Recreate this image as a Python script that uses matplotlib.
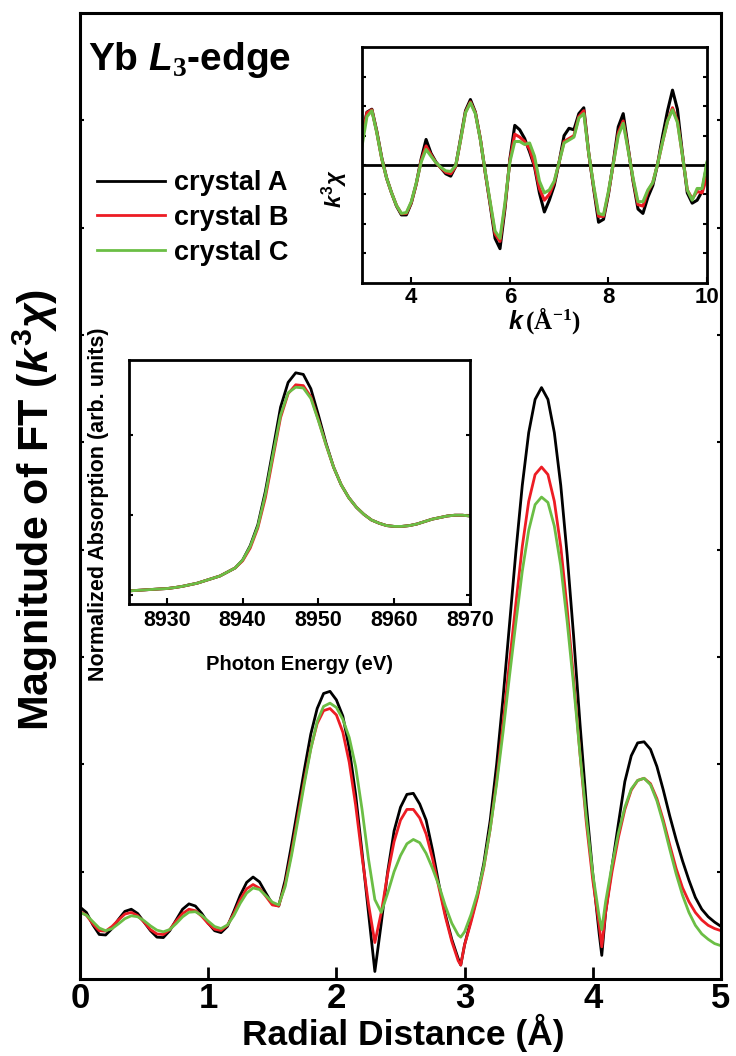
import numpy as np
import matplotlib
matplotlib.use("Agg")
import matplotlib.pyplot as plt
from matplotlib.lines import Line2D

plt.rcParams['font.family'] = ['Liberation Sans', 'DejaVu Sans']
plt.rcParams['font.weight'] = 'bold'
plt.rcParams['axes.labelweight'] = 'bold'
plt.rcParams['mathtext.fontset'] = 'custom'
plt.rcParams['mathtext.it'] = 'Liberation Sans:italic:bold'
plt.rcParams['mathtext.rm'] = 'Liberation Serif:bold'
plt.rcParams['mathtext.sf'] = 'Liberation Sans:bold'
plt.rcParams['mathtext.bf'] = 'Liberation Sans:bold'
plt.rcParams['lines.solid_joinstyle'] = 'round'

labels = ["crystal A", "crystal B", "crystal C"]
colors = ["black", "#ED1C24", "#6BBE45"]

# main panel: |FT| vs radial distance (0.05 A grid plus the two sharp minima)
r = np.sort(np.r_[np.round(np.arange(101) * 0.05, 2), 2.97, 4.07])
ft_a = [0.67, 0.62, 0.505, 0.415, 0.41, 0.47, 0.555, 0.63, 0.65, 0.61,
        0.53, 0.45, 0.39, 0.386, 0.45, 0.55, 0.65, 0.70, 0.68, 0.61,
        0.52, 0.45, 0.432, 0.49, 0.63, 0.78, 0.90, 0.95, 0.905, 0.80,
        0.70, 0.68, 0.92, 1.25, 1.60, 1.95, 2.28, 2.52, 2.66, 2.68,
        2.60, 2.45, 2.15, 1.72, 1.18, 0.62, 0.07, 0.52, 1.00, 1.38,
        1.60, 1.72, 1.73, 1.63, 1.48, 1.20, 0.88, 0.60, 0.37, 0.19, 0.13,
        0.32, 0.55, 0.78, 1.08, 1.48, 2.00, 2.62, 3.30, 3.98, 4.60,
        5.09, 5.40, 5.51, 5.40, 5.09, 4.60, 3.95, 3.20, 2.38, 1.62,
        0.98, 0.42, 0.22, 0.62, 1.05, 1.45, 1.84, 2.08, 2.20, 2.21, 2.14,
        1.98, 1.76, 1.52, 1.30, 1.10, 0.92, 0.76, 0.65, 0.58, 0.53,
        0.49]
ft_b = [0.63, 0.594, 0.514, 0.45, 0.446, 0.49, 0.55, 0.605, 0.62, 0.59,
        0.53, 0.46, 0.42, 0.414, 0.46, 0.54, 0.61, 0.65, 0.636, 0.584,
        0.516, 0.464, 0.452, 0.50, 0.61, 0.74, 0.84, 0.88, 0.846, 0.77,
        0.69, 0.68, 0.88, 1.18, 1.52, 1.85, 2.15, 2.38, 2.50, 2.52,
        2.46, 2.30, 2.02, 1.62, 1.14, 0.70, 0.34, 0.62, 0.98, 1.28,
        1.48, 1.58, 1.58, 1.50, 1.35, 1.12, 0.85, 0.58, 0.35, 0.17, 0.13,
        0.32, 0.53, 0.76, 1.04, 1.40, 1.85, 2.38, 2.95, 3.50, 4.03,
        4.45, 4.70, 4.77, 4.70, 4.45, 4.03, 3.45, 2.80, 2.10, 1.45,
        0.92, 0.50, 0.30, 0.62, 1.00, 1.32, 1.58, 1.76, 1.85, 1.87, 1.82,
        1.68, 1.48, 1.25, 1.03, 0.85, 0.72, 0.62, 0.55, 0.50, 0.47,
        0.45]
ft_c = [0.62, 0.595, 0.535, 0.475, 0.45, 0.469, 0.514, 0.562, 0.589, 0.58,
        0.543, 0.495, 0.455, 0.44, 0.461, 0.516, 0.579, 0.622, 0.627, 0.593,
        0.539, 0.489, 0.47, 0.503, 0.59, 0.706, 0.80, 0.848, 0.834, 0.776,
        0.716, 0.69, 0.86, 1.15, 1.48, 1.82, 2.14, 2.40, 2.54, 2.57,
        2.53, 2.42, 2.25, 1.98, 1.58, 1.12, 0.74, 0.62, 0.80, 1.00,
        1.15, 1.26, 1.30, 1.27, 1.17, 1.03, 0.87, 0.68, 0.52, 0.41, 0.39,
        0.44, 0.60, 0.80, 1.05, 1.40, 1.82, 2.30, 2.82, 3.32, 3.80,
        4.18, 4.42, 4.49, 4.44, 4.22, 3.85, 3.33, 2.74, 2.10, 1.50,
        0.98, 0.58, 0.46, 0.72, 1.06, 1.36, 1.60, 1.77, 1.85, 1.87, 1.81,
        1.66, 1.45, 1.21, 0.98, 0.78, 0.62, 0.50, 0.42, 0.37, 0.33,
        0.31]

# top inset: k^3 chi(k)
k = np.round(np.arange(3.0, 10.01, 0.1), 1)
chi_a = [1.00, 1.80, 1.90, 1.15, 0.25, -0.45, -0.95, -1.40, -1.70, -1.70,
         -1.30, -0.65, 0.20, 0.87, 0.40, 0.10, -0.10, -0.30, -0.38, -0.05,
         0.90, 1.85, 2.23, 1.80, 0.90, -0.25, -1.35, -2.50, -2.85, -1.50,
         0.20, 1.35, 1.20, 0.90, 0.45, -0.05, -0.95, -1.60, -1.20, -0.70,
         0.10, 1.00, 1.25, 1.20, 1.75, 1.95, 0.40, -0.80, -1.95, -1.85,
         -1.00, 0.10, 1.30, 1.75, 0.60, -0.55, -1.50, -1.65, -1.10, -0.70,
         0.05, 1.00, 1.85, 2.55, 1.90, 0.40, -0.95, -1.30, -1.20, -0.90,
         0.05]
chi_b = [0.95, 1.78, 1.88, 1.12, 0.22, -0.45, -0.95, -1.38, -1.66, -1.65,
         -1.28, -0.65, 0.15, 0.65, 0.35, 0.08, -0.10, -0.25, -0.30, -0.05,
         0.85, 1.80, 2.15, 1.78, 0.90, -0.25, -1.30, -2.35, -2.60, -1.40,
         0.15, 1.05, 0.95, 0.80, 0.55, 0.00, -0.80, -1.20, -1.00, -0.60,
         0.10, 0.80, 0.90, 1.00, 1.65, 1.85, 0.40, -0.75, -1.75, -1.75,
         -0.95, 0.05, 1.10, 1.50, 0.55, -0.50, -1.35, -1.40, -0.90, -0.60,
         0.05, 0.80, 1.50, 1.95, 1.50, 0.35, -0.85, -1.15, -0.90, -0.95,
         -0.40]
chi_c = [0.65, 1.65, 1.85, 1.10, 0.22, -0.45, -0.95, -1.38, -1.65, -1.62,
         -1.25, -0.62, 0.10, 0.53, 0.30, 0.08, -0.08, -0.20, -0.22, -0.02,
         0.85, 1.78, 2.12, 1.75, 0.88, -0.22, -1.25, -2.25, -2.50, -1.30,
         0.10, 0.80, 0.80, 0.70, 0.75, 0.30, -0.55, -0.95, -0.85, -0.55,
         0.10, 0.75, 0.85, 0.95, 1.60, 1.75, 0.40, -0.70, -1.65, -1.70,
         -0.90, 0.05, 1.00, 1.42, 0.50, -0.45, -1.25, -1.25, -0.85, -0.60,
         0.05, 0.80, 1.50, 1.88, 1.45, 0.35, -0.85, -1.20, -0.80, -0.80,
         0.10]

# middle inset: XANES
energy = np.arange(8925, 8971)
mu_a = [0.054, 0.060, 0.066, 0.072, 0.078, 0.083, 0.095, 0.11, 0.13, 0.15,
        0.18, 0.21, 0.24, 0.29, 0.34, 0.44, 0.62, 0.88, 1.30, 1.82,
        2.35, 2.66, 2.78, 2.76, 2.58, 2.25, 1.90, 1.60, 1.38, 1.22,
        1.10, 1.01, 0.94, 0.90, 0.87, 0.86, 0.86, 0.87, 0.89, 0.92,
        0.95, 0.97, 0.99, 1.00, 1.00, 0.99]
mu_b = [0.054, 0.060, 0.066, 0.072, 0.078, 0.083, 0.095, 0.11, 0.13, 0.15,
        0.18, 0.21, 0.24, 0.29, 0.34, 0.43, 0.59, 0.84, 1.22, 1.72,
        2.22, 2.52, 2.63, 2.62, 2.48, 2.19, 1.88, 1.60, 1.38, 1.22,
        1.10, 1.01, 0.94, 0.90, 0.87, 0.86, 0.86, 0.87, 0.89, 0.92,
        0.95, 0.97, 0.99, 1.00, 1.00, 0.99]
mu_c = [0.054, 0.060, 0.066, 0.072, 0.078, 0.083, 0.095, 0.11, 0.13, 0.15,
        0.18, 0.21, 0.24, 0.29, 0.34, 0.44, 0.61, 0.86, 1.26, 1.76,
        2.25, 2.53, 2.60, 2.59, 2.46, 2.18, 1.88, 1.60, 1.38, 1.22,
        1.10, 1.01, 0.94, 0.90, 0.87, 0.86, 0.86, 0.87, 0.89, 0.92,
        0.95, 0.97, 0.99, 1.00, 1.00, 0.99]

W, H = 736, 1056
fig = plt.figure(figsize=(W / 100, H / 100), dpi=100)


def px_axes(left, top, right, bottom):
    return fig.add_axes([left / W, 1 - bottom / H, (right - left) / W, (bottom - top) / H])


# ---- main panel
ax = px_axes(80, 13, 721, 979)
for y, c in zip([ft_a, ft_b, ft_c], colors):
    ax.plot(r, y, color=c, lw=2.0)
ax.set_xlim(0, 5)
ax.set_ylim(0, 9)
ax.set_xticks(range(6))
ax.set_yticks(range(1, 9))
ax.tick_params(axis='x', direction='in', length=9, width=2, labelsize=25, pad=2)
ax.tick_params(axis='y', direction='in', length=3, width=1.5, left=True, right=True,
               labelleft=False)
for s in ax.spines.values():
    s.set_linewidth(2.2)
ax.set_xlabel('Radial Distance (Å)', fontsize=25.5, va='top')
ax.xaxis.set_label_coords(0.504, -0.036)
ax.set_ylabel(r'Magnitude of FT ($\mathit{k}^{\mathsf{3}}\mathit{\chi}$)', fontsize=31)
ax.yaxis.set_label_coords(-0.031, 0.486)

fig.text(88 / W, 1 - 60 / H, r'Yb $\mathit{L}_{3}$-edge', fontsize=28, va='center')

handles = [Line2D([], [], color=c, lw=2) for c in colors]
ax.legend(handles, labels, loc='upper left', bbox_to_anchor=(97 / W, 1 - 170 / H),
          bbox_transform=fig.transFigure, frameon=False, fontsize=19.5,
          handlelength=2.5, handletextpad=0.35, labelspacing=0.33,
          borderpad=0, borderaxespad=0)

# ---- top inset: EXAFS oscillations
ax1 = px_axes(362, 47, 707, 283)
ax1.axhline(0, color='black', lw=2)
for y, c in zip([chi_a, chi_b, chi_c], colors):
    ax1.plot(k, y, color=c, lw=2.2)
ax1.set_xlim(3, 10)
ax1.set_ylim(-4.02, 4.02)
ax1.set_xticks([4, 6, 8, 10])
ax1.set_yticks(range(-3, 4))
ax1.tick_params(axis='x', direction='in', length=4, width=1.5, labelsize=16, pad=3)
ax1.tick_params(axis='y', direction='in', length=3, width=1.5, left=True, right=True,
                labelleft=False)
for s in ax1.spines.values():
    s.set_linewidth(2.0)
ax1.set_xlabel(r'$\mathit{k}\,\mathrm{(Å^{-1})}$', fontsize=18, va='top')
ax1.xaxis.set_label_coords(0.53, -0.095)
ax1.set_ylabel(r'$\mathit{k}^{\mathsf{3}}\mathit{\chi}$', fontsize=16)
ax1.yaxis.set_label_coords(-0.035, 0.40)

# ---- middle inset: XANES
ax2 = px_axes(129, 360, 470, 604)
for y, c in zip([mu_a, mu_b, mu_c], colors):
    ax2.plot(energy, y, color=c, lw=2.0)
ax2.set_xlim(8925, 8970)
ax2.set_ylim(-0.11, 2.94)
ax2.set_xticks(range(8930, 8971, 10))
ax2.set_yticks([0, 1, 2])
ax2.tick_params(axis='x', direction='in', length=4, width=1.5, labelsize=15.5, pad=4)
ax2.tick_params(axis='y', direction='in', length=3, width=1.5, left=True, right=True,
                labelleft=False)
for s in ax2.spines.values():
    s.set_linewidth(2.0)
ax2.set_xlabel('Photon Energy (eV)', fontsize=14.5, va='top')
ax2.xaxis.set_label_coords(0.5, -0.21)
ax2.set_ylabel('Normalized Absorption (arb. units)', fontsize=15.5)
ax2.yaxis.set_label_coords(-0.06, 0.41)

fig.savefig('out.png', dpi=100)
